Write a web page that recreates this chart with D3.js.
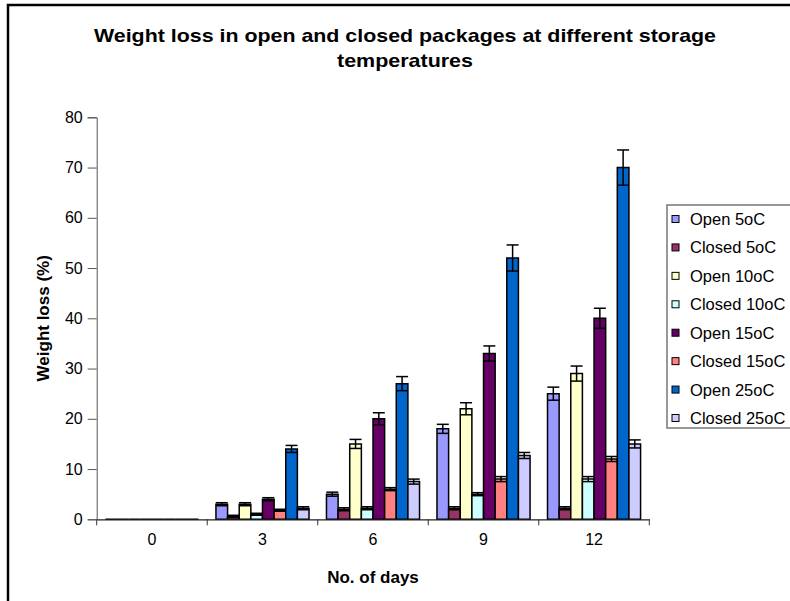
<!DOCTYPE html>
<html>
<head>
<meta charset="utf-8">
<script src="https://cdn.jsdelivr.net/npm/d3@7/dist/d3.min.js"></script>
<style>
  html, body { margin: 0; padding: 0; background: #fff; }
  svg { display: block; }
</style>
</head>
<body>
<svg id="chart" width="790" height="601"></svg>
<script>
// ---- data ----
const days = ["0", "3", "6", "9", "12"];
const seriesNames = ["Open 5oC", "Closed 5oC", "Open 10oC", "Closed 10oC", "Open 15oC", "Closed 15oC", "Open 25oC", "Closed 25oC"];
const seriesColors = ["#9999FF", "#993366", "#FFFFCC", "#CCFFFF", "#660066", "#FF8080", "#0066CC", "#CCCCFF"];

const open5    = [0, 3.0, 5.0, 18.0, 25.0];
const closed5  = [0, 0.6, 2.0, 2.2, 2.2];
const open10   = [0, 3.0, 15.0, 22.0, 29.0];
const closed10 = [0, 1.0, 2.2, 5.0, 8.0];
const open15   = [0, 4.0, 20.0, 33.0, 40.0];
const closed15 = [0, 1.8, 6.0, 8.0, 12.0];
const open25   = [0, 14.0, 27.0, 52.0, 70.0];
const closed25 = [0, 2.2, 7.5, 12.7, 15.0];

const errOpen5    = [0, 0.3, 0.4, 0.9, 1.3];
const errClosed5  = [0, 0.2, 0.3, 0.3, 0.3];
const errOpen10   = [0, 0.3, 0.9, 1.2, 1.5];
const errClosed10 = [0, 0.2, 0.3, 0.3, 0.5];
const errOpen15   = [0, 0.3, 1.2, 1.5, 2.0];
const errClosed15 = [0, 0.2, 0.3, 0.5, 0.5];
const errOpen25   = [0, 0.7, 1.4, 2.6, 3.5];
const errClosed25 = [0, 0.3, 0.5, 0.6, 0.8];

const yTicks = [0, 10, 20, 30, 40, 50, 60, 70, 80];

const titleLines = ["Weight loss in open and closed packages at different storage", "temperatures"];
const xTitle = "No. of days";
const yTitle = "Weight loss (%)";

const allValues = [open5, closed5, open10, closed10, open15, closed15, open25, closed25];
const allErrors = [errOpen5, errClosed5, errOpen10, errClosed10, errOpen15, errClosed15, errOpen25, errClosed25];

// ---- layout ----
const svg = d3.select("#chart");
const plotLeft = 96.7, plotRight = 649.3, plotTop = 117.3, plotBottom = 519.3;
const font = "'Liberation Sans', Arial, sans-serif";

// outer frame
svg.append("rect")
  .attr("x", 8).attr("y", 5).attr("width", 900).attr("height", 700)
  .attr("fill", "none").attr("stroke", "#000").attr("stroke-width", 2.5);

const y = d3.scaleLinear().domain([0, 80]).range([plotBottom, plotTop]);
const x0 = d3.scaleBand().domain(days).range([plotLeft, plotRight]).paddingInner(0).paddingOuter(0);
const x1 = d3.scaleBand().domain(seriesNames).range([0, x0.bandwidth()]).paddingInner(0).paddingOuter(0.75);

// bars
const barData = [];
seriesNames.forEach((s, si) => {
  days.forEach((d, di) => {
    barData.push({ series: s, si, day: d, v: allValues[si][di], e: allErrors[si][di] });
  });
});

const bars = svg.append("g");
bars.selectAll("path").data(barData).enter().append("path")
  .attr("d", d => {
    const bx = x0(d.day) + x1(d.series), bw = x1.bandwidth();
    const p = d3.path();
    p.moveTo(bx, y(0));
    p.lineTo(bx, y(d.v));
    p.lineTo(bx + bw, y(d.v));
    p.lineTo(bx + bw, y(0));
    p.closePath();
    return p.toString();
  })
  .attr("fill", d => seriesColors[d.si])
  .attr("stroke", "#000")
  .attr("stroke-width", 1.5);

// error bars
const eg = svg.append("g").attr("stroke", "#000").attr("stroke-width", 1.5);
barData.filter(d => d.e > 0).forEach(d => {
  const cx = x0(d.day) + x1(d.series) + x1.bandwidth() / 2;
  const hw = 6;
  eg.append("line").attr("x1", cx).attr("x2", cx).attr("y1", y(d.v - d.e)).attr("y2", y(d.v + d.e));
  eg.append("line").attr("x1", cx - hw).attr("x2", cx + hw).attr("y1", y(d.v + d.e)).attr("y2", y(d.v + d.e));
  eg.append("line").attr("x1", cx - hw).attr("x2", cx + hw).attr("y1", y(d.v - d.e)).attr("y2", y(d.v - d.e));
});

// y axis
const yAxis = svg.append("g")
  .attr("transform", `translate(${plotLeft},0)`)
  .call(d3.axisLeft(y).tickValues(yTicks).tickSize(9).tickPadding(5));
yAxis.select(".domain").attr("stroke", "#555");
yAxis.selectAll(".tick line").attr("stroke", "#555");
yAxis.selectAll("text").attr("font-family", font).attr("font-size", 16).attr("fill", "#000");

// x axis
const xAxis = svg.append("g")
  .attr("transform", `translate(0,${plotBottom})`)
  .call(d3.axisBottom(x0).tickSize(0).tickPadding(14));
xAxis.select(".domain").attr("stroke", "#222").attr("stroke-width", 1.2);
xAxis.selectAll("text").attr("font-family", font).attr("font-size", 16).attr("fill", "#000");
// group separator ticks
const sepTicks = d3.range(days.length + 1).map(i => plotLeft + i * x0.step());
svg.append("g").selectAll("line").data(sepTicks).enter().append("line")
  .attr("x1", d => d).attr("x2", d => d)
  .attr("y1", plotBottom).attr("y2", plotBottom + 6)
  .attr("stroke", "#333").attr("stroke-width", 1);

// titles
svg.append("text").attr("x", 405).attr("y", 42)
  .attr("text-anchor", "middle").attr("font-family", font).attr("font-weight", "bold")
  .attr("font-size", 19).attr("textLength", 622).attr("lengthAdjust", "spacingAndGlyphs")
  .text(titleLines[0]);
svg.append("text").attr("x", 405).attr("y", 67)
  .attr("text-anchor", "middle").attr("font-family", font).attr("font-weight", "bold")
  .attr("font-size", 19).attr("textLength", 136).attr("lengthAdjust", "spacingAndGlyphs")
  .text(titleLines[1]);

svg.append("text").attr("x", (plotLeft + plotRight) / 2).attr("y", 583)
  .attr("text-anchor", "middle").attr("font-family", font).attr("font-weight", "bold")
  .attr("font-size", 17).text(xTitle);

svg.append("text")
  .attr("transform", `translate(49,${(plotTop + plotBottom) / 2}) rotate(-90)`)
  .attr("text-anchor", "middle").attr("font-family", font).attr("font-weight", "bold")
  .attr("font-size", 17).text(yTitle);

// legend
const lg = svg.append("g");
lg.append("rect").attr("x", 667).attr("y", 205).attr("width", 200).attr("height", 223)
  .attr("fill", "#fff").attr("stroke", "#777").attr("stroke-width", 1.5);
const legendY = d3.scalePoint().domain(seriesNames).range([219, 418]);
seriesNames.forEach((s, i) => {
  const cy = legendY(s);
  lg.append("rect").attr("x", 672).attr("y", cy - 3.5).attr("width", 7).attr("height", 7)
    .attr("fill", seriesColors[i]).attr("stroke", "#000").attr("stroke-width", 1);
  lg.append("text").attr("x", 690).attr("y", cy + 6)
    .attr("font-family", font).attr("font-size", 16.5).text(s);
});
</script>
</body>
</html>
